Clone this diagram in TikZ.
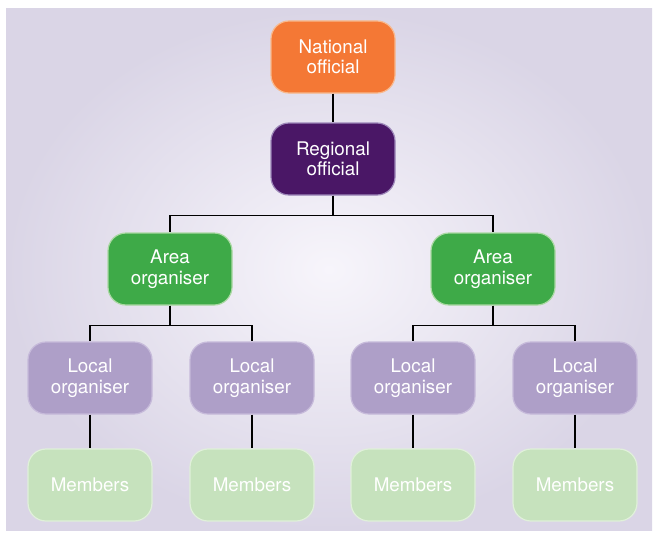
\documentclass[tikz,border=0pt]{standalone}
\usepackage{fontspec}
\setmainfont{TeX Gyre Heros}
\definecolor{bgout}{HTML}{DAD5E6}
\definecolor{bgin}{HTML}{F7F5FB}
\definecolor{natfill}{HTML}{F47835}
\definecolor{natline}{HTML}{F8B88C}
\definecolor{regfill}{HTML}{4A1766}
\definecolor{regline}{HTML}{9C86B8}
\definecolor{areafill}{HTML}{3EAA48}
\definecolor{arealine}{HTML}{A9D8A2}
\definecolor{locfill}{HTML}{AE9FC8}
\definecolor{locline}{HTML}{C6BADA}
\definecolor{memfill}{HTML}{C6E2BD}
\definecolor{memline}{HTML}{E0F0DA}
\begin{document}
\begin{tikzpicture}[x=1pt,y=-1pt,
	box/.style={rounded corners=18pt, minimum width=124pt, minimum height=72pt, line width=1.2pt,
		align=center, text=white, font=\fontsize{18.8}{20.5}\selectfont, inner sep=0pt},
	link/.style={line width=1.2pt, black}]
			
			\useasboundingbox (0,0) rectangle (655,535);
			\shade[inner color=bgin, outer color=bgout] (6,9) rectangle (652,530);
			
			% top two levels
			\node[box, fill=natfill, draw=natline] (nat) at (333,57) {National\\official};
			\node[box, fill=regfill, draw=regline] (reg) at (333,159) {Regional\\official};
			%
			\node[box, fill=areafill, draw=arealine] (areaL) at (170,269) {Area\\organiser};
			\node[box, fill=areafill, draw=arealine] (areaR) at (493,269) {Area\\organiser};
			%
			\node[box, fill=locfill, draw=locline] (loc1) at (90,378) {Local\\organiser};
			\node[box, fill=locfill, draw=locline] (loc2) at (252,378) {Local\\organiser};
			\node[box, fill=locfill, draw=locline] (loc3) at (413,378) {Local\\organiser};
			\node[box, fill=locfill, draw=locline] (loc4) at (575,378) {Local\\organiser};
			%
			\node[box, fill=memfill, draw=memline] (mem1) at (90,485) {Members};
			\node[box, fill=memfill, draw=memline] (mem2) at (252,485) {Members};
			\node[box, fill=memfill, draw=memline] (mem3) at (413,485) {Members};
			\node[box, fill=memfill, draw=memline] (mem4) at (575,485) {Members};
			
			% connectors
			\draw[link] (nat) -- (reg);
			\draw[link] (reg.south) -- ++(0,20) -| (areaL.north);
			\draw[link] (reg.south) -- ++(0,20) -| (areaR.north);
			\draw[link] (areaL.south) -- ++(0,20) -| (loc1.north);
			\draw[link] (areaL.south) -- ++(0,20) -| (loc2.north);
			\draw[link] (areaR.south) -- ++(0,20) -| (loc3.north);
			\draw[link] (areaR.south) -- ++(0,20) -| (loc4.north);
			%
			\draw[link] (loc1) -- (mem1);
			\draw[link] (loc2) -- (mem2);
			\draw[link] (loc3) -- (mem3);
			\draw[link] (loc4) -- (mem4);
			
			\end{tikzpicture}
\end{document}
